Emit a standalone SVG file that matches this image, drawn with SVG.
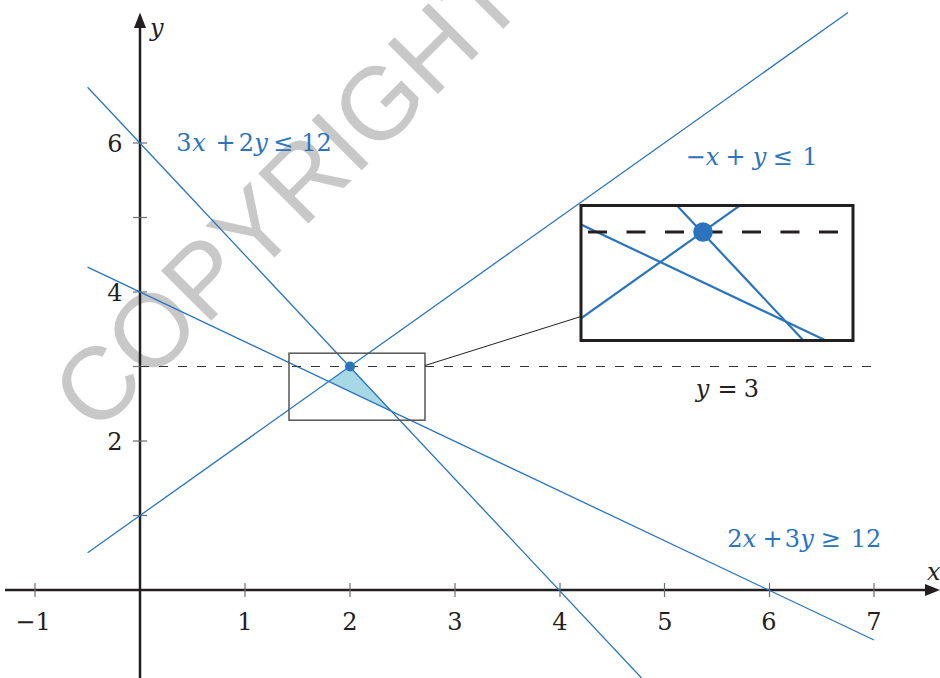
<svg xmlns="http://www.w3.org/2000/svg" width="940" height="678" viewBox="0 0 940 678">
<style>
.ax{stroke:#231f20;stroke-width:2.5;fill:none}
.tk{stroke:#6d6e71;stroke-width:1.2}
.bl{stroke:#2a74bd;stroke-width:1.3;fill:none}
.num{font-family:"DejaVu Serif",serif;font-size:24px;fill:#231f20}
.eq{font-family:"DejaVu Serif",serif;font-size:24px;fill:#2a74bd}
.it{font-style:italic}
.wm{font-family:"Liberation Sans",sans-serif;font-size:103px;fill:#c8c8c8}
</style>
<defs>
<clipPath id="insetClip"><rect x="581" y="205.5" width="272" height="135"/></clipPath>
</defs>
<rect width="940" height="678" fill="#fff"/>
<text class="wm" transform="translate(96,436) rotate(-45)">COPYRIGHTED</text>
<g id="axes">
<line class="ax" x1="5" y1="590" x2="926" y2="590"/>
<polygon points="940,590 925,584 925,596" fill="#231f20"/>
<line class="ax" x1="140" y1="678" x2="140" y2="27"/>
<polygon points="140,12.5 134,28 146,28" fill="#231f20"/>
<g class="tk">
<line x1="35" y1="583" x2="35" y2="597"/>
<line x1="245" y1="583" x2="245" y2="597"/>
<line x1="350" y1="583" x2="350" y2="597"/>
<line x1="455" y1="583" x2="455" y2="597"/>
<line x1="560" y1="583" x2="560" y2="597"/>
<line x1="664.5" y1="583" x2="664.5" y2="597"/>
<line x1="769.5" y1="583" x2="769.5" y2="597"/>
<line x1="874" y1="583" x2="874" y2="597"/>
<line x1="133" y1="515.5" x2="147" y2="515.5"/>
<line x1="133" y1="441" x2="147" y2="441"/>
<line x1="133" y1="366.5" x2="147" y2="366.5"/>
<line x1="133" y1="292" x2="147" y2="292"/>
<line x1="133" y1="217.5" x2="147" y2="217.5"/>
<line x1="133" y1="143" x2="147" y2="143"/>
</g>
<g class="num" text-anchor="middle">
<text x="33" y="630">−1</text>
<text x="245" y="630">1</text>
<text x="350" y="630">2</text>
<text x="455" y="630">3</text>
<text x="560" y="630">4</text>
<text x="665" y="630">5</text>
<text x="769" y="630">6</text>
<text x="874" y="630">7</text>
<text x="115" y="152">6</text>
<text x="115" y="301">4</text>
<text x="115" y="450">2</text>
</g>
<text class="num it" x="150" y="36">y</text>
<text class="num it" x="927" y="580">x</text>
</g>
<g id="region">
<polygon points="350,366.5 391.7,411.2 328.8,381.4" fill="#a6d8e6"/>
</g>
<g id="lines">
<line class="bl" x1="87.6" y1="87.25" x2="641.5" y2="678"/>
<line class="bl" x1="87.6" y1="552.75" x2="848" y2="12.5"/>
<line class="bl" x1="87.6" y1="267.2" x2="874" y2="640"/>
<line x1="140" y1="366.5" x2="878" y2="366.5" stroke="#333" stroke-width="1.2" stroke-dasharray="9 10"/>
<circle cx="350" cy="366.5" r="5" fill="#2a74bd"/>
</g>
<g id="labels" text-anchor="middle">
<text class="eq" y="151"><tspan x="184">3</tspan><tspan class="it" x="199">x</tspan><tspan x="225.5">+</tspan><tspan x="246.5">2</tspan><tspan class="it" x="261">y</tspan><tspan x="283">≤</tspan><tspan x="316.5">12</tspan></text>
<text class="eq" y="165"><tspan x="695.5">−</tspan><tspan class="it" x="712.5">x</tspan><tspan x="735.5">+</tspan><tspan class="it" x="759.5">y</tspan><tspan x="782.5">≤</tspan><tspan x="810">1</tspan></text>
<text class="num" y="397"><tspan class="it" x="702.5">y</tspan><tspan x="727.5">=</tspan><tspan x="751.5">3</tspan></text>
<text class="eq" y="547"><tspan x="735">2</tspan><tspan class="it" x="749.5">x</tspan><tspan x="772.5">+</tspan><tspan x="792.5">3</tspan><tspan class="it" x="807">y</tspan><tspan x="830.5">≥</tspan><tspan x="866">12</tspan></text>
</g>
<g id="zoom-box">
<rect x="289" y="353.2" width="136" height="67" fill="none" stroke="#555" stroke-width="1.5"/>
</g>
<g id="connector">
<line x1="425" y1="365.5" x2="581" y2="316.5" stroke="#231f20" stroke-width="1"/>
</g>
<g id="inset">
<rect x="581" y="205.5" width="272" height="135" fill="#fff"/>
<g clip-path="url(#insetClip)">
<g transform="translate(581,205.5) scale(2) translate(-289,-353.2)">
<line x1="87.6" y1="87.25" x2="641.5" y2="678" stroke="#2a74bd" stroke-width="1.1"/>
<line x1="87.6" y1="552.75" x2="848" y2="12.5" stroke="#2a74bd" stroke-width="1.1"/>
<line x1="87.6" y1="267.2" x2="874" y2="640" stroke="#2a74bd" stroke-width="1.1"/>
</g>
</g>
<line x1="588" y1="232" x2="838" y2="232" stroke="#231f20" stroke-width="3" stroke-dasharray="19 19.5"/>
<circle cx="703" cy="232" r="9.8" fill="#2a74bd"/>
<rect x="581" y="205.5" width="272" height="135" fill="none" stroke="#231f20" stroke-width="3"/>
</g>
</svg>
